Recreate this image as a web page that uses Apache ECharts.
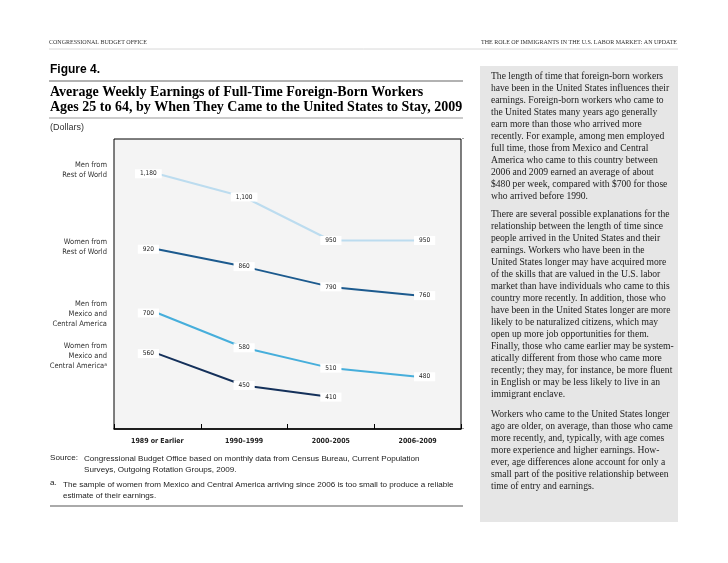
<!DOCTYPE html>
<html>
<head>
<meta charset="utf-8">
<script src="https://cdn.jsdelivr.net/npm/echarts@6/dist/echarts.min.js"></script>
<style>
html,body{margin:0;padding:0;background:#fff;}
#c{width:728px;height:563px;}
</style>
</head>
<body>
<div id="c"></div>
<script>
const categories = ['1989 or Earlier', '1990\u20131999', '2000\u20132005', '2006\u20132009'];
const menRestOfWorld = [1180, 1100, 950, 950];
const womenRestOfWorld = [920, 860, 790, 760];
const menMexicoCA = [700, 580, 510, 480];
const womenMexicoCA = [560, 450, 410, null];
const yMin = 300, yMax = 1300;

const para1 = [
'The length of time that foreign-born workers',
'have been in the United States influences their',
'earnings. Foreign-born workers who came to',
'the United States many years ago generally',
'earn more than those who arrived more',
'recently. For example, among men employed',
'full time, those from Mexico and Central',
'America who came to this country between',
'2006 and 2009 earned an average of about',
'$480 per week, compared with $700 for those',
'who arrived before 1990.'];
const para2 = [
'There are several possible explanations for the',
'relationship between the length of time since',
'people arrived in the United States and their',
'earnings. Workers who have been in the',
'United States longer may have acquired more',
'of the skills that are valued in the U.S. labor',
'market than have individuals who came to this',
'country more recently. In addition, those who',
'have been in the United States longer are more',
'likely to be naturalized citizens, which may',
'open up more job opportunities for them.',
'Finally, those who came earlier may be system-',
'atically different from those who came more',
'recently; they may, for instance, be more fluent',
'in English or may be less likely to live in an',
'immigrant enclave.'];
const para3 = [
'Workers who came to the United States longer',
'ago are older, on average, than those who came',
'more recently, and, typically, with age comes',
'more experience and higher earnings. How-',
'ever, age differences alone account for only a',
'small part of the positive relationship between',
'time of entry and earnings.'];

function fmt(v){ return v.toString().replace(/\B(?=(\d{3})+(?!\d))/g, ','); }
function mk(arr){
  return arr.map(function(v,i){
    if (v === null) return null;
    var off = i === 0 ? [-9,0] : (i === arr.length-1 ? [7,0] : [0,0]);
    return {value: v, label: {offset: off}};
  });
}
function lineSeries(name, arr, color){
  return {
    name: name, type: 'line', data: mk(arr),
    symbol: 'circle', symbolSize: 1, itemStyle: {color: color},
    lineStyle: {color: color, width: 2},
    connectNulls: false, z: 3,
    label: {
      show: true, position: 'inside', formatter: function(p){ return fmt(p.value); },
      backgroundColor: '#fff', padding: [1, 5, 1, 5],
      fontSize: 6.5, color: '#222', fontFamily: 'DejaVu Sans Condensed'
    }
  };
}

const graphics = [];
// header
graphics.push({type:'text', left:49, top:39, style:{text:'CONGRESSIONAL BUDGET OFFICE', font:'6px "Liberation Serif"', fill:'#333'}});
graphics.push({type:'text', right:51, top:39, style:{text:'THE ROLE OF IMMIGRANTS IN THE U.S. LABOR MARKET: AN UPDATE', font:'6px "Liberation Serif"', fill:'#333'}});
graphics.push({type:'line', shape:{x1:49, y1:49, x2:678, y2:49}, style:{stroke:'#d8d8d8', lineWidth:1}});
// figure label & title
graphics.push({type:'text', left:50, top:64, style:{text:'Figure 4.', font:'bold 12px "Liberation Sans"', fill:'#000'}});
graphics.push({type:'line', shape:{x1:49, y1:81, x2:463, y2:81}, style:{stroke:'#999', lineWidth:1.5}});
graphics.push({type:'text', left:50, top:85, style:{text:'Average Weekly Earnings of Full-Time Foreign-Born Workers\nAges 25 to 64, by When They Came to the United States to Stay, 2009', font:'bold 14px "Liberation Serif"', lineHeight:15, fill:'#000'}});
graphics.push({type:'line', shape:{x1:49, y1:118, x2:463, y2:118}, style:{stroke:'#999', lineWidth:1}});
graphics.push({type:'text', left:50, top:123, style:{text:'(Dollars)', font:'9px "Liberation Sans"', fill:'#333'}});
// series names at left (right-aligned at x=107)
function leftLabel(lines, yTop, sup){
  lines.forEach(function(t, i){
    var last = i === lines.length - 1;
    graphics.push({type:'text', style:{
      x: 107, y: yTop + i*10, text: t + (sup && last ? '{s|a}' : ''), align:'right', verticalAlign:'top',
      font:'7.5px "DejaVu Sans Condensed"', fill:'#333',
      rich: {s: {fontSize:5, verticalAlign:'top', fontFamily:'DejaVu Sans Condensed', fill:'#333'}}
    }});
  });
}
leftLabel(['Men from', 'Rest of World'], 161, false);
leftLabel(['Women from', 'Rest of World'], 238, false);
leftLabel(['Men from', 'Mexico and', 'Central America'], 300, false);
leftLabel(['Women from', 'Mexico and', 'Central America'], 342, true);
// source & notes
const noteFont = '8.1px "Liberation Sans"';
graphics.push({type:'text', left:50, top:454, style:{text:'Source:', font:noteFont, fill:'#222'}});
graphics.push({type:'text', left:84, top:454, style:{text:'Congressional Budget Office based on monthly data from Census Bureau, Current Population\nSurveys, Outgoing Rotation Groups, 2009.', font:noteFont, lineHeight:10.5, fill:'#222'}});
graphics.push({type:'text', left:50, top:479, style:{text:'a.', font:noteFont, fill:'#222'}});
graphics.push({type:'text', left:63, top:479, style:{text:'The sample of women from Mexico and Central America arriving since 2006 is too small to produce a reliable\nestimate of their earnings.', font:noteFont, lineHeight:11.5, fill:'#222'}});
graphics.push({type:'line', shape:{x1:50, y1:506, x2:463, y2:506}, style:{stroke:'#aaa', lineWidth:2}});
// right column box
graphics.push({type:'rect', shape:{x:480, y:66, width:198, height:456}, style:{fill:'#e6e6e6'}, z:-1});
const bodyFont = '9.6px "Liberation Serif"';
graphics.push({type:'text', left:491, top:70, style:{text:para1.join('\n'), font:bodyFont, lineHeight:12, fill:'#222'}});
graphics.push({type:'text', left:491, top:208, style:{text:para2.join('\n'), font:bodyFont, lineHeight:12, fill:'#222'}});
graphics.push({type:'text', left:491, top:408, style:{text:para3.join('\n'), font:bodyFont, lineHeight:12, fill:'#222'}});
// tiny corner dots
graphics.push({type:'rect', shape:{x:462.5, y:138, width:1, height:1}, style:{fill:'#444'}});
graphics.push({type:'rect', shape:{x:462.5, y:428, width:1, height:1}, style:{fill:'#444'}});

const chart = echarts.init(document.getElementById('c'), null, {renderer:'canvas'});
chart.setOption({
  backgroundColor: '#fff',
  animation: false,
  grid: {left:114, right:267, top:139, bottom:134, show:true, backgroundColor:'#f4f4f4', borderColor:'#000', borderWidth:1},
  xAxis: {
    type:'category', data: categories, boundaryGap: true,
    axisLine: {show:true, lineStyle:{color:'#000', width:1.5}},
    axisTick: {show:true, inside:true, length:5, lineStyle:{color:'#000', width:1}},
    axisLabel: {color:'#222', fontSize:7, fontWeight:'bold', fontFamily:'DejaVu Sans Condensed', margin:9}
  },
  yAxis: {type:'value', min:yMin, max:yMax, show:false, splitLine:{show:false}},
  series: [
    lineSeries('Men from Rest of World', menRestOfWorld, '#bcdcef'),
    lineSeries('Women from Rest of World', womenRestOfWorld, '#1c5a8e'),
    lineSeries('Men from Mexico and Central America', menMexicoCA, '#46aedb'),
    lineSeries('Women from Mexico and Central America', womenMexicoCA, '#14305a')
  ],
  graphic: graphics
});
</script>
</body>
</html>
